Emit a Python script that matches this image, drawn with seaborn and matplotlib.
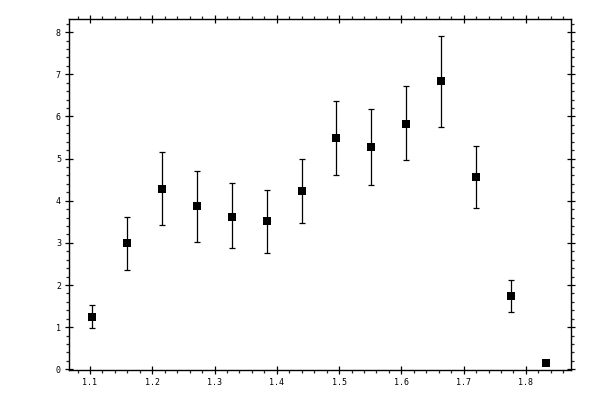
import matplotlib
matplotlib.use("Agg")
import matplotlib.pyplot as plt
import seaborn as sns
import numpy as np
import pandas as pd
from matplotlib.ticker import MultipleLocator

x_vals = [1.104, 1.160, 1.216, 1.272, 1.328, 1.385, 1.441,
          1.495, 1.552, 1.608, 1.664, 1.720, 1.776, 1.832]
y_vals = [1.23, 2.99, 4.27, 3.87, 3.62, 3.51, 4.23,
          5.48, 5.27, 5.83, 6.84, 4.56, 1.73, 0.15]
y_hi = [1.52, 3.62, 5.15, 4.70, 4.42, 4.26, 4.99,
        6.36, 6.17, 6.72, 7.90, 5.29, 2.12, 0.15]
y_lo = [0.97, 2.35, 3.42, 3.01, 2.87, 2.75, 3.47,
        4.61, 4.37, 4.96, 5.74, 3.82, 1.35, 0.15]

df = pd.DataFrame({"x": x_vals, "y": y_vals})
err = np.array([np.array(y_vals) - np.array(y_lo), np.array(y_hi) - np.array(y_vals)])

sns.set_style("ticks")
plt.rcParams["font.family"] = ["DejaVu Sans Mono", "DejaVu Sans"]

fig = plt.figure(figsize=(6, 4), dpi=100)
ax = fig.add_axes([0.1155, 0.075, 0.8355, 0.877])

ax.errorbar(x_vals, y_vals, yerr=err, fmt="none", ecolor="black",
            elinewidth=0.9, capsize=2.0, capthick=0.9)
sns.scatterplot(data=df, x="x", y="y", ax=ax, marker="s", s=36,
                color="black", edgecolor="black", linewidth=0, zorder=3)

ax.set_xlim(1.0668, 1.8717)
ax.set_ylim(-0.017, 8.309)
ax.xaxis.set_major_locator(MultipleLocator(0.1))
ax.xaxis.set_minor_locator(MultipleLocator(0.02))
ax.yaxis.set_major_locator(MultipleLocator(1))
ax.yaxis.set_minor_locator(MultipleLocator(0.2))
ax.set_xticks([1.1, 1.2, 1.3, 1.4, 1.5, 1.6, 1.7, 1.8])
ax.set_xticklabels(["1.1", "1.2", "1.3", "1.4", "1.5", "1.6", "1.7", "1.8"])
ax.set_xlabel("")
ax.set_ylabel("")

for s in ax.spines.values():
    s.set_visible(True)
    s.set_linewidth(1.0)
    s.set_color("black")

ax.tick_params(which="major", direction="inout", length=6, width=0.9,
               top=True, right=True, labelsize=6, pad=3, colors="black")
ax.tick_params(which="minor", direction="out", length=2.5, width=0.9,
               top=True, right=True)

fig.savefig("out.png", dpi=100)
